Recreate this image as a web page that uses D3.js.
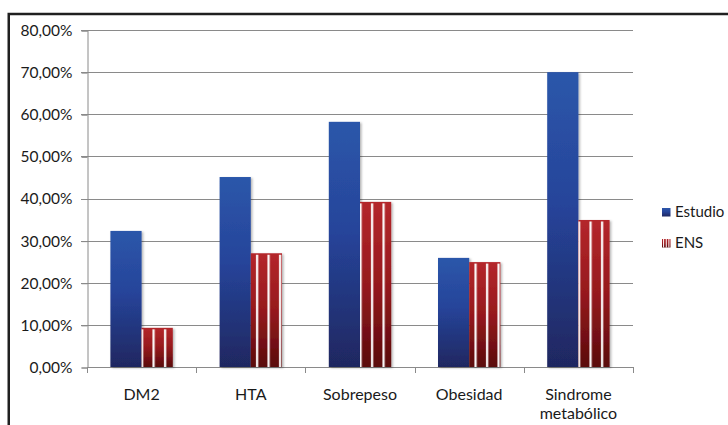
<!DOCTYPE html>
<html>
<head>
<meta charset="utf-8">
<script src="https://cdn.jsdelivr.net/npm/d3@7"></script>
<style>
  html, body { margin: 0; padding: 0; background: #fff; }
  svg { display: block; }
  text { font-family: Lato, "Open Sans", sans-serif; fill: #1a1a1a; }
</style>
</head>
<body>
<svg id="chart" width="728" height="425"></svg>
<script>
// Prevalencia: estudio vs. Encuesta Nacional de Salud (ENS)
const categories = [["DM2"], ["HTA"], ["Sobrepeso"], ["Obesidad"], ["Sindrome", "metabólico"]];
const seriesNames = ["Estudio", "ENS"];
const estudio = [32.3, 45.1, 58.2, 25.9, 70.0];
const ens = [9.3, 27.0, 39.2, 24.9, 34.9];
const yTicks = [0, 10, 20, 30, 40, 50, 60, 70, 80];

const svg = d3.select("#chart");
const margin = { left: 87, right: 95, top: 30, bottom: 58 };
const W = 728, H = 425;
const x0 = margin.left, x1 = W - margin.right;
const yTop = margin.top, yBot = H - margin.bottom;

const defs = svg.append("defs");

const blue = defs.append("linearGradient").attr("id", "gBlue")
  .attr("x1", 0).attr("y1", 0).attr("x2", 0).attr("y2", 1);
blue.append("stop").attr("offset", "0%").attr("stop-color", "#2c57aa");
blue.append("stop").attr("offset", "45%").attr("stop-color", "#26449a");
blue.append("stop").attr("offset", "100%").attr("stop-color", "#1f2760");

const red = defs.append("linearGradient").attr("id", "gRed")
  .attr("x1", 0).attr("y1", 0).attr("x2", 0).attr("y2", 1);
red.append("stop").attr("offset", "0%").attr("stop-color", "#b4262b");
red.append("stop").attr("offset", "50%").attr("stop-color", "#96191d");
red.append("stop").attr("offset", "100%").attr("stop-color", "#5a0a0c");

// white vertical stripes laid over the ENS bars
const stripes = defs.append("pattern").attr("id", "pStripes")
  .attr("patternUnits", "userSpaceOnUse").attr("width", 11.5).attr("height", 10);
stripes.append("rect").attr("x", 3).attr("y", 0).attr("width", 2.2).attr("height", 10).attr("fill", "#fff");

const shadow = defs.append("filter").attr("id", "fShadow")
  .attr("x", "-20%").attr("y", "-10%").attr("width", "140%").attr("height", "120%");
shadow.append("feDropShadow").attr("dx", 1.5).attr("dy", 1).attr("stdDeviation", 1)
  .attr("flood-color", "#000").attr("flood-opacity", 0.3);

// outer frame
svg.append("rect").attr("x", 8.75).attr("y", 14).attr("width", 900).attr("height", 600)
  .attr("fill", "none").attr("stroke", "#202020").attr("stroke-width", 2.5);

const x = d3.scaleBand().domain(d3.range(categories.length)).range([x0, x1]).paddingInner(0).paddingOuter(0);
const bw = x.bandwidth() / 3.5; // 150% gap between groups
const y = d3.scaleLinear().domain([0, 80]).range([yBot, yTop]);

// gridlines
svg.append("g").selectAll("line").data(yTicks.filter(t => t > 0)).join("line")
  .attr("x1", x0 - 6).attr("x2", x1)
  .attr("y1", d => Math.round(y(d)) + 0.5).attr("y2", d => Math.round(y(d)) + 0.5)
  .attr("stroke", "#8a8a8a").attr("stroke-width", 1);

// y axis
const yAxis = d3.axisLeft(y).tickValues(yTicks).tickSize(6).tickPadding(9)
  .tickFormat(d => d3.format(".2f")(d).replace(".", ",") + "%");
const gy = svg.append("g").attr("transform", `translate(${x0 + 0.5},0.5)`).call(yAxis);
gy.select(".domain").attr("stroke", "#8a8a8a");
gy.selectAll(".tick line").attr("stroke", "#8a8a8a");
gy.selectAll("text").attr("font-size", 15.5).attr("fill", "#1a1a1a")
  .attr("font-family", "Lato, 'Open Sans', sans-serif");

// x axis baseline and category ticks
svg.append("line").attr("x1", x0).attr("x2", x1)
  .attr("y1", Math.round(yBot) + 0.5).attr("y2", Math.round(yBot) + 0.5)
  .attr("stroke", "#8a8a8a");
const bounds = d3.range(categories.length + 1).map(i => i < categories.length ? x(i) : x1);
svg.append("g").selectAll("line").data(bounds).join("line")
  .attr("x1", d => Math.round(d) + 0.5).attr("x2", d => Math.round(d) + 0.5)
  .attr("y1", yBot).attr("y2", yBot + 6).attr("stroke", "#8a8a8a");

// category labels
const lab = svg.append("g").selectAll("text").data(categories).join("text")
  .attr("text-anchor", "middle").attr("font-size", 16)
  .attr("x", (d, i) => x(i) + x.bandwidth() / 2).attr("y", yBot + 33);
lab.selectAll("tspan").data(d => d).join("tspan")
  .attr("x", function () { return this.parentNode.getAttribute("x"); })
  .attr("dy", (d, i) => i === 0 ? 0 : 19).text(d => d);

// bars
const bars = svg.append("g");
const groupStart = i => x(i) + (x.bandwidth() - 2 * bw) / 2;
bars.selectAll(".est").data(estudio).join("rect").attr("class", "est")
  .attr("x", (d, i) => groupStart(i)).attr("width", bw)
  .attr("y", d => y(d)).attr("height", d => yBot - y(d))
  .attr("fill", "url(#gBlue)").attr("filter", "url(#fShadow)");
bars.selectAll(".ens").data(ens).join("rect").attr("class", "ens")
  .attr("x", (d, i) => groupStart(i) + bw).attr("width", bw)
  .attr("y", d => y(d)).attr("height", d => yBot - y(d))
  .attr("fill", "url(#gRed)").attr("filter", "url(#fShadow)");
bars.selectAll(".ensS").data(ens).join("rect").attr("class", "ensS")
  .attr("x", (d, i) => groupStart(i) + bw).attr("width", bw)
  .attr("y", d => y(d) + 1.5).attr("height", d => yBot - y(d) - 1.5)
  .attr("fill", "url(#pStripes)");

// legend
const leg = svg.append("g").attr("transform", "translate(662,208)");
const items = leg.selectAll("g").data(seriesNames).join("g")
  .attr("transform", (d, i) => `translate(0,${i * 31})`);
items.append("rect").attr("width", 8.5).attr("height", 8.5)
  .attr("fill", (d, i) => i === 0 ? "url(#gBlue)" : "url(#gRed)");
items.filter((d, i) => i === 1).selectAll("line").data([1.6, 4.25, 6.9]).join("line")
  .attr("x1", d => d).attr("x2", d => d).attr("y1", 0).attr("y2", 8.5)
  .attr("stroke", "#fff").attr("stroke-width", 1);
items.append("text").attr("x", 13).attr("y", 8.5).attr("font-size", 15).text(d => d);
</script>
</body>
</html>
